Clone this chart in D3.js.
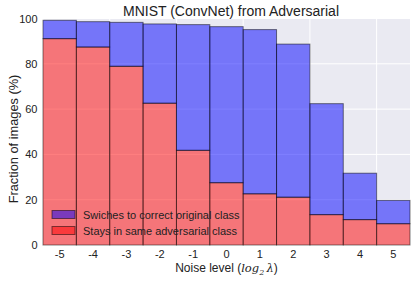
<!DOCTYPE html>
<html><head><meta charset="utf-8">
<script src="https://cdn.jsdelivr.net/npm/d3@7"></script>
<style>body{margin:0;background:#fff;} svg{display:block;font-family:"Liberation Sans",Arial,sans-serif;}</style>
</head><body>
<svg id="c" width="416" height="281"></svg>
<script>
const categories = [-5,-4,-3,-2,-1,0,1,2,3,4,5];
const staysAdversarial = [91.1,87.4,78.9,62.6,41.8,27.5,22.6,21.1,13.4,11.2,9.4];
const switchesCorrect = [8.1,11.2,19.4,35.0,55.5,68.9,72.5,67.6,49.0,20.5,10.3];
const yTicks = [0,20,40,60,80,100];
const xGrid = [0,2,4,6,8,10];

const svg = d3.select("#c");
const L=43, R=410, T=18.5, B=245;
const x = d3.scaleLinear().domain([0,categories.length]).range([L,R]);
const y = d3.scaleLinear().domain([0,100]).range([B,T]);

svg.append("rect").attr("x",L).attr("y",T).attr("width",R-L).attr("height",B-T).attr("fill","#EAEAF2");
svg.append("g").selectAll("line").data(yTicks).join("line")
  .attr("x1",L).attr("x2",R).attr("y1",d=>y(d)).attr("y2",d=>y(d)).attr("stroke","#fff").attr("stroke-width",1);
svg.append("g").selectAll("line").data(xGrid).join("line")
  .attr("y1",T).attr("y2",B).attr("x1",d=>x(d)).attr("x2",d=>x(d)).attr("stroke","#fff").attr("stroke-width",1);

const bw = x(1)-x(0);
svg.append("g").selectAll("rect").data(staysAdversarial).join("rect")
  .attr("x",(d,i)=>x(i)).attr("width",bw)
  .attr("y",d=>y(d)).attr("height",d=>B-y(d))
  .attr("fill","rgba(255,0,0,0.5)").attr("stroke","rgba(0,0,0,0.5)").attr("stroke-width",1);
svg.append("g").selectAll("rect").data(switchesCorrect).join("rect")
  .attr("x",(d,i)=>x(i)).attr("width",bw)
  .attr("y",(d,i)=>y(d+staysAdversarial[i])).attr("height",(d,i)=>y(staysAdversarial[i])-y(d+staysAdversarial[i]))
  .attr("fill","rgba(0,0,255,0.5)").attr("stroke","rgba(0,0,0,0.5)").attr("stroke-width",1);

svg.append("g").selectAll("text").data(yTicks).join("text")
  .attr("x",37.5).attr("y",d=>y(d)+4).attr("text-anchor","end").attr("font-size",11).attr("fill","#222").text(d=>d);
svg.append("g").selectAll("text").data(categories).join("text")
  .attr("x",(d,i)=>x(i+0.5)).attr("y",257.5).attr("text-anchor","middle").attr("font-size",11).attr("fill","#222").text(d=>d);

svg.append("text").attr("x",231).attr("y",15.5).attr("text-anchor","middle").attr("font-size",14).attr("fill","#222").text("MNIST (ConvNet) from Adversarial");
svg.append("text").attr("transform","translate(17.5,139) rotate(-90)").attr("text-anchor","middle").attr("font-size",12.8).attr("fill","#222").text("Fraction of images (%)");

const xl = svg.append("text").attr("x",226.5).attr("y",272).attr("text-anchor","middle").attr("font-size",12).attr("fill","#222");
xl.append("tspan").text("Noise level (");
xl.append("tspan").attr("font-style","italic").attr("font-family","DejaVu Serif").attr("font-size",11.5).text("log");
xl.append("tspan").attr("font-style","italic").attr("font-family","DejaVu Serif").attr("font-size",8).attr("dy",2.5).text("2");
xl.append("tspan").attr("font-style","italic").attr("font-family","DejaVu Serif").attr("font-size",11.5).attr("dy",-2.5).text("\u2009λ");
xl.append("tspan").text(")");

const legend = [{label:"Swiches to correct original class", c:"rgba(0,0,255,0.5)"},{label:"Stays in same adversarial class", c:"rgba(255,0,0,0.5)"}];
const lg = svg.append("g").selectAll("g").data(legend).join("g").attr("transform",(d,i)=>`translate(52,${210.5+i*16})`);
lg.append("rect").attr("width",23).attr("height",8).attr("fill",d=>d.c).attr("stroke","rgba(0,0,0,0.5)");
lg.append("text").attr("x",31).attr("y",8.5).attr("font-size",11).attr("fill","#222").text(d=>d.label);
</script>
</body></html>
